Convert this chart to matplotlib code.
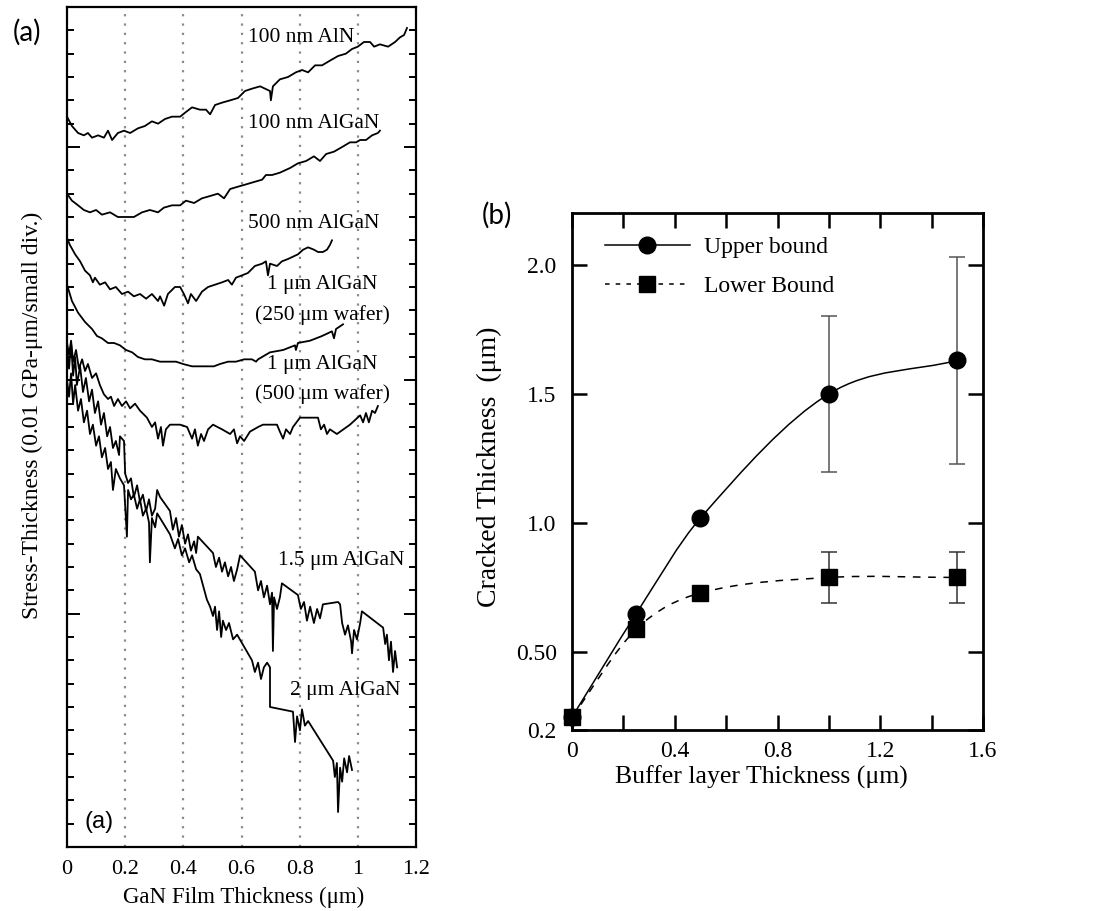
import numpy as np
import matplotlib
matplotlib.use("Agg")
import matplotlib.pyplot as plt
from matplotlib.path import Path
from matplotlib.patches import PathPatch
from matplotlib.lines import Line2D
from matplotlib.ticker import MultipleLocator, FixedLocator

plt.rcParams["font.family"] = ["Liberation Serif", "DejaVu Serif"]

# ---------------- panel (a): in-situ stress-thickness traces ----------------
# x: GaN film thickness (um), y: stress-thickness in small divisions
aln_100nm = [
    (0.0, 31.3), (0.017, 30.9), (0.038, 30.6), (0.058, 30.5), (0.072, 30.6), (0.086, 30.4),
    (0.107, 30.5), (0.127, 30.4), (0.141, 30.7), (0.155, 30.3), (0.175, 30.6), (0.196, 30.7),
    (0.217, 30.6), (0.244, 30.8), (0.268, 30.9), (0.292, 31.1), (0.313, 31.0), (0.337, 31.2),
    (0.361, 31.3), (0.389, 31.3), (0.409, 31.5), (0.43, 31.7), (0.457, 31.6), (0.478, 31.6),
    (0.492, 31.4), (0.509, 31.8), (0.533, 31.9), (0.561, 32.0), (0.588, 32.1), (0.612, 32.4),
    (0.636, 32.5), (0.664, 32.6), (0.681, 32.5), (0.698, 32.4), (0.701, 32.0), (0.708, 32.6),
    (0.732, 32.9), (0.76, 33.0), (0.787, 33.2), (0.808, 33.3), (0.829, 33.2), (0.853, 33.5),
    (0.877, 33.5), (0.904, 33.7), (0.932, 33.9), (0.959, 34.0), (0.98, 34.2), (1.0, 34.3),
    (1.021, 34.5), (1.042, 34.5), (1.056, 34.3), (1.076, 34.4), (1.104, 34.3), (1.128, 34.5),
    (1.145, 34.7), (1.159, 34.8), (1.169, 35.1),
]
algan_100nm = [
    (0.0, 28.0), (0.017, 27.7), (0.038, 27.5), (0.058, 27.3), (0.079, 27.2), (0.1, 27.3),
    (0.12, 27.1), (0.148, 27.2), (0.175, 27.0), (0.203, 27.0), (0.23, 27.0), (0.258, 27.2),
    (0.285, 27.3), (0.313, 27.2), (0.333, 27.4), (0.361, 27.5), (0.389, 27.5), (0.409, 27.7),
    (0.437, 27.6), (0.464, 27.8), (0.492, 27.9), (0.519, 28.0), (0.54, 27.8), (0.561, 28.2),
    (0.588, 28.3), (0.616, 28.4), (0.643, 28.5), (0.671, 28.6), (0.684, 28.8), (0.705, 28.8),
    (0.732, 28.9), (0.767, 29.1), (0.794, 29.3), (0.822, 29.4), (0.849, 29.6), (0.87, 29.4),
    (0.891, 29.7), (0.918, 29.8), (0.946, 30.0), (0.973, 30.2), (0.994, 30.2), (1.008, 30.3),
    (1.028, 30.3), (1.049, 30.5), (1.069, 30.6), (1.076, 30.7),
]
algan_500nm = [
    (0.0, 26.1), (0.01, 25.8), (0.028, 25.4), (0.045, 25.1), (0.062, 24.7), (0.079, 24.5),
    (0.089, 24.2), (0.096, 24.4), (0.113, 24.1), (0.131, 24.2), (0.148, 23.9), (0.168, 24.0),
    (0.189, 23.7), (0.21, 23.8), (0.23, 23.6), (0.251, 23.7), (0.272, 23.5), (0.292, 23.7),
    (0.313, 23.4), (0.32, 23.6), (0.334, 23.2), (0.347, 23.7), (0.371, 24.0), (0.389, 24.0),
    (0.402, 23.7), (0.416, 23.3), (0.426, 23.7), (0.444, 23.4), (0.464, 23.8), (0.485, 24.0),
    (0.509, 24.1), (0.533, 24.2), (0.554, 24.3), (0.567, 24.1), (0.581, 24.4), (0.602, 24.5),
    (0.622, 24.6), (0.646, 24.9), (0.671, 25.0), (0.684, 25.1), (0.691, 24.5), (0.698, 25.0),
    (0.722, 24.9), (0.739, 25.1), (0.76, 25.2), (0.777, 25.3), (0.794, 25.4), (0.812, 25.6),
    (0.829, 25.7), (0.849, 25.6), (0.863, 25.5), (0.88, 25.5), (0.894, 25.6), (0.904, 25.8),
    (0.911, 26.0),
]
algan_1um_250 = [
    (0.0, 24.1), (0.017, 23.4), (0.038, 22.9), (0.062, 22.5), (0.086, 22.2), (0.103, 21.9),
    (0.12, 21.8), (0.141, 21.6), (0.162, 21.6), (0.182, 21.5), (0.203, 21.3), (0.224, 21.2),
    (0.244, 21.0), (0.268, 20.9), (0.292, 20.9), (0.32, 20.8), (0.347, 20.8), (0.375, 20.8),
    (0.399, 20.7), (0.43, 20.6), (0.457, 20.6), (0.485, 20.6), (0.505, 20.6), (0.526, 20.7),
    (0.554, 20.8), (0.581, 20.8), (0.609, 20.9), (0.636, 20.9), (0.65, 20.8), (0.657, 20.9),
    (0.698, 21.2), (0.743, 21.3), (0.784, 21.5), (0.787, 21.3), (0.794, 21.6), (0.836, 21.7),
    (0.877, 21.9), (0.911, 22.1), (0.918, 21.8), (0.925, 22.2), (0.949, 22.4),
]
algan_1um_500 = [
    (0.0, 21.6), (0.007, 21.1), (0.014, 21.7), (0.021, 20.8), (0.031, 21.3), (0.041, 20.5),
    (0.052, 20.9), (0.062, 20.4), (0.072, 20.7), (0.086, 20.1), (0.1, 20.3), (0.113, 19.8),
    (0.127, 19.4), (0.141, 19.2), (0.151, 19.3), (0.162, 18.9), (0.175, 19.2), (0.189, 18.9),
    (0.203, 19.1), (0.217, 18.8), (0.234, 19.0), (0.251, 18.7), (0.275, 18.4), (0.292, 18.0),
    (0.303, 18.2), (0.313, 17.5), (0.323, 18.0), (0.33, 17.2), (0.34, 17.9), (0.354, 18.1),
    (0.389, 18.1), (0.413, 18.0), (0.43, 17.5), (0.44, 17.9), (0.45, 17.2), (0.461, 17.7),
    (0.471, 17.4), (0.485, 17.9), (0.502, 18.1), (0.533, 17.9), (0.561, 17.7), (0.574, 17.9),
    (0.585, 17.3), (0.595, 17.6), (0.609, 17.4), (0.629, 17.8), (0.657, 18.0), (0.674, 18.1),
    (0.722, 18.1), (0.732, 17.8), (0.743, 17.5), (0.753, 17.9), (0.767, 17.7), (0.777, 18.0),
    (0.801, 18.4), (0.863, 18.4), (0.873, 17.9), (0.884, 18.1), (0.894, 17.7), (0.904, 17.9),
    (0.928, 17.7), (0.973, 18.1), (1.008, 18.5), (1.018, 18.2), (1.028, 18.6), (1.038, 18.2),
    (1.049, 18.7), (1.059, 18.6), (1.069, 18.9),
]
algan_1p5um = [
    (0.0, 21.4), (0.007, 20.5), (0.014, 21.6), (0.021, 20.2), (0.028, 21.0), (0.034, 19.8),
    (0.045, 20.6), (0.055, 19.5), (0.065, 20.1), (0.076, 19.1), (0.086, 19.6), (0.096, 18.6),
    (0.107, 19.1), (0.117, 18.1), (0.127, 18.6), (0.138, 17.6), (0.148, 18.0), (0.158, 17.1),
    (0.168, 17.4), (0.179, 16.8), (0.182, 17.6), (0.196, 17.4), (0.2, 16.0), (0.21, 15.6),
    (0.22, 15.8), (0.23, 15.0), (0.241, 15.5), (0.251, 14.8), (0.261, 15.1), (0.272, 14.4),
    (0.282, 14.9), (0.292, 14.2), (0.303, 14.5), (0.31, 15.3), (0.32, 15.0), (0.354, 14.4),
    (0.364, 13.6), (0.375, 14.1), (0.385, 13.3), (0.395, 13.8), (0.406, 13.0), (0.416, 13.4),
    (0.426, 12.7), (0.437, 13.1), (0.444, 12.6), (0.45, 13.3), (0.502, 12.6), (0.512, 12.0),
    (0.523, 12.4), (0.533, 11.8), (0.543, 12.2), (0.554, 11.6), (0.564, 12.0), (0.574, 11.4),
    (0.585, 11.9), (0.595, 12.5), (0.646, 11.8), (0.657, 11.0), (0.667, 11.4), (0.677, 10.7),
    (0.688, 11.2), (0.698, 10.4), (0.705, 10.9), (0.708, 8.4), (0.712, 10.7), (0.722, 10.2),
    (0.732, 10.7), (0.739, 11.3), (0.794, 10.8), (0.804, 10.2), (0.815, 10.5), (0.825, 9.7),
    (0.836, 10.3), (0.849, 9.6), (0.86, 10.2), (0.87, 9.8), (0.88, 10.4), (0.932, 10.5),
    (0.939, 10.4), (0.946, 9.6), (0.956, 9.1), (0.966, 9.5), (0.977, 8.8), (0.98, 8.3),
    (0.987, 9.3), (0.997, 8.9), (1.008, 9.6), (1.014, 10.1), (1.087, 9.4), (1.094, 8.7),
    (1.1, 9.1), (1.107, 8.0), (1.114, 8.8), (1.121, 7.5), (1.128, 8.4), (1.135, 7.7),
]
algan_2um = [
    (0.0, 20.0), (0.007, 19.3), (0.014, 20.3), (0.021, 19.0), (0.028, 19.8), (0.038, 18.7),
    (0.048, 19.2), (0.058, 18.2), (0.069, 18.7), (0.079, 17.7), (0.089, 18.1), (0.1, 17.2),
    (0.11, 17.6), (0.12, 16.7), (0.131, 17.1), (0.141, 16.2), (0.151, 16.5), (0.158, 15.3),
    (0.168, 16.2), (0.182, 15.8), (0.196, 15.5), (0.206, 13.3), (0.21, 15.3), (0.22, 14.9),
    (0.23, 15.1), (0.241, 14.5), (0.251, 14.9), (0.261, 14.2), (0.272, 14.5), (0.282, 13.9),
    (0.285, 12.2), (0.292, 14.1), (0.303, 13.7), (0.31, 14.3), (0.354, 13.4), (0.371, 12.8),
    (0.382, 13.2), (0.395, 12.5), (0.406, 12.8), (0.42, 12.2), (0.43, 12.5), (0.444, 11.9),
    (0.457, 11.7), (0.481, 10.6), (0.492, 10.3), (0.502, 9.9), (0.509, 10.3), (0.516, 9.3),
    (0.523, 10.1), (0.53, 9.0), (0.536, 9.7), (0.547, 9.3), (0.557, 9.6), (0.571, 8.9),
    (0.585, 9.1), (0.636, 8.0), (0.646, 7.5), (0.657, 7.9), (0.667, 7.2), (0.677, 7.7),
    (0.688, 7.9), (0.698, 7.7), (0.698, 6.0), (0.777, 5.8), (0.784, 4.5), (0.791, 5.6),
    (0.801, 5.0), (0.808, 5.9), (0.818, 5.2), (0.829, 5.4), (0.915, 3.7), (0.921, 3.0),
    (0.928, 3.6), (0.932, 1.5), (0.939, 3.4), (0.946, 2.8), (0.953, 3.8), (0.963, 3.2),
    (0.97, 3.9), (0.98, 3.3),
]
traces = [aln_100nm, algan_100nm, algan_500nm, algan_1um_250, algan_1um_500, algan_1p5um, algan_2um]
trace_labels = [
    ("100 nm AlN", 0.622, 34.7),
    ("100 nm AlGaN", 0.622, 31.0),
    ("500 nm AlGaN", 0.622, 26.7),
    ("1 μm AlGaN", 0.688, 24.1),
    ("(250 μm wafer)", 0.646, 22.8),
    ("1 μm AlGaN", 0.688, 20.7),
    ("(500 μm wafer)", 0.646, 19.4),
    ("1.5 μm AlGaN", 0.726, 12.3),
    ("2 μm AlGaN", 0.767, 6.7),
]
a_xticks = [0, 0.2, 0.4, 0.6, 0.8, 1.0, 1.2]
a_xticklabels = ["0", "0.2", "0.4", "0.6", "0.8", "1", "1.2"]

# ---------------- panel (b): cracked thickness vs buffer ----------------
buffer_thk = [0, 0.25, 0.5, 1.0, 1.5]
upper_bound = [0.25, 0.65, 1.02, 1.50, 1.63]
upper_err = [0, 0, 0, 0.30, 0.40]
lower_bound = [0.25, 0.59, 0.73, 0.79, 0.79]
lower_err = [0, 0, 0, 0.10, 0.10]
b_yticks = [0.2, 0.5, 1.0, 1.5, 2.0]
b_yticklabels = ["0.2", "0.50", "1.0", "1.5", "2.0"]
b_xticks = [0, 0.4, 0.8, 1.2, 1.6]
b_xticklabels = ["0", "0.4", "0.8", "1.2", "1.6"]


def smooth_path(xs, ys):
    # cubic Bezier through the points (finite-difference tangents)
    xs = np.asarray(xs, float)
    ys = np.asarray(ys, float)
    n = len(xs)
    m = np.empty(n)
    m[0] = (ys[1] - ys[0]) / (xs[1] - xs[0])
    m[-1] = (ys[-1] - ys[-2]) / (xs[-1] - xs[-2])
    for i in range(1, n - 1):
        m[i] = (ys[i + 1] - ys[i - 1]) / (xs[i + 1] - xs[i - 1])
    verts = [(xs[0], ys[0])]
    codes = [Path.MOVETO]
    for i in range(n - 1):
        h = xs[i + 1] - xs[i]
        verts += [(xs[i] + h / 3, ys[i] + m[i] * h / 3),
                  (xs[i + 1] - h / 3, ys[i + 1] - m[i + 1] * h / 3),
                  (xs[i + 1], ys[i + 1])]
        codes += [Path.CURVE4] * 3
    return Path(verts, codes)


fig = plt.figure(figsize=(11.2, 9.11), dpi=100)

# panel (a)
ax1 = fig.add_axes([67 / 1120, 64 / 911, 349 / 1120, 840 / 911])
for xv in a_xticks[1:-1]:
    ax1.axvline(xv, color="#8a8a8a", lw=1.6, linestyle=(0, (1.0, 3.2)), zorder=1)
for tr in traces:
    xs, ys = zip(*tr)
    ax1.plot(xs, ys, color="black", lw=1.3, zorder=3)
for txt, tx, ty in trace_labels:
    ax1.text(tx, ty, txt, fontsize=15.5, ha="left", va="center", zorder=4)
ax1.set_xlim(0, 1.2)
ax1.set_ylim(0, 36)
ax1.set_xticks(a_xticks)
ax1.set_xticklabels(a_xticklabels)
ax1.yaxis.set_major_locator(MultipleLocator(10))
ax1.yaxis.set_minor_locator(MultipleLocator(1))
ax1.tick_params(axis="x", length=0, pad=9, labelsize=16)
ax1.tick_params(axis="y", which="both", direction="in", left=True, right=True,
                labelleft=False, width=1.4)
ax1.tick_params(axis="y", which="major", length=9)
ax1.tick_params(axis="y", which="minor", length=5)
for sp in ax1.spines.values():
    sp.set_linewidth(1.6)
ax1.set_xlabel("GaN Film Thickness (μm)", fontsize=16.5)
ax1.xaxis.set_label_coords(0.507, -0.047)
ax1.set_ylabel("Stress-Thickness (0.01 GPa-μm/small div.)", fontsize=17)
ax1.yaxis.set_label_coords(-0.069, 0.514)
ax1.text(0.05, 0.03, "(a)", transform=ax1.transAxes, fontsize=17,
         family=["Liberation Sans", "DejaVu Sans"], ha="left", va="center")

# panel (b)
ax2 = fig.add_axes([572 / 1120, 181 / 911, 411 / 1120, 517 / 911])
ax2.add_patch(PathPatch(smooth_path(buffer_thk, upper_bound), facecolor="none",
                        edgecolor="black", lw=1.1, zorder=2))
ax2.add_patch(PathPatch(smooth_path(buffer_thk, lower_bound), facecolor="none",
                        edgecolor="black", lw=1.1, linestyle=(0, (5, 5)), zorder=2))
ax2.errorbar(buffer_thk, upper_bound, yerr=upper_err, fmt="o", color="black",
             ms=12, ecolor="#555555", elinewidth=1.1, capsize=6, capthick=1.1,
             zorder=4, clip_on=False)
ax2.errorbar(buffer_thk, lower_bound, yerr=lower_err, fmt="s", color="black",
             ms=12, ecolor="#333333", elinewidth=1.1, capsize=6, capthick=1.1,
             zorder=5, clip_on=False)
ax2.set_xlim(0, 1.6)
ax2.set_ylim(0.2, 2.2)
ax2.set_xticks(b_xticks)
ax2.set_xticklabels(b_xticklabels)
ax2.xaxis.set_minor_locator(FixedLocator([0.2, 0.6, 1.0, 1.4]))
ax2.set_yticks(b_yticks)
ax2.set_yticklabels(b_yticklabels)
ax2.tick_params(axis="both", which="both", direction="in", top=True, right=True,
                length=11, width=1.8, labelsize=17)
ax2.tick_params(axis="x", pad=8)
ax2.tick_params(axis="y", pad=11)
for sp in ax2.spines.values():
    sp.set_linewidth(2.0)
ax2.set_xlabel("Buffer layer Thickness (μm)", fontsize=18.5)
ax2.xaxis.set_label_coords(0.46, -0.068)
ax2.set_ylabel("Cracked Thickness  (μm)", fontsize=20)
ax2.yaxis.set_label_coords(-0.17, 0.51)

handles = [
    Line2D([], [], color="black", lw=1.1, marker="o", ms=12),
    Line2D([], [], color="black", lw=1.1, marker="s", ms=12, linestyle=(0, (3, 4))),
]
ax2.legend(handles, ["Upper bound", "Lower Bound"], loc="upper left",
           bbox_to_anchor=(0.08, 0.955), frameon=False, fontsize=17,
           handlelength=3.6, handletextpad=0.6, labelspacing=0.75,
           borderpad=0, borderaxespad=0, numpoints=1)

fig.text(27 / 1120, 1 - 32 / 911, "(a)", fontsize=20, family=["Lato", "DejaVu Sans"],
         ha="center", va="center")
fig.text(497 / 1120, 1 - 215 / 911, "(b)", fontsize=20, family=["Lato", "DejaVu Sans"],
         ha="center", va="center")

fig.savefig("out.png", dpi=100, facecolor="white")
